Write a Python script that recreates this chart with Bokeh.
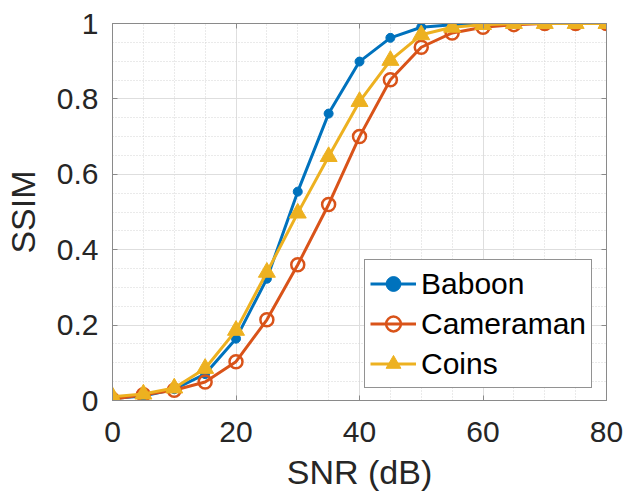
from bokeh.plotting import figure
from bokeh.models import (FixedTicker, LinearAxis, Range1d, Legend, LegendItem,
                          CustomLabelingPolicy)
from bokeh.embed import file_html
from bokeh.resources import INLINE

# SSIM versus SNR for three test images
snr = [0, 5, 10, 15, 20, 25, 30, 35, 40, 45, 50, 55, 60, 65, 70, 75, 80]
baboon = [0.005, 0.012, 0.030, 0.070, 0.164, 0.323, 0.554, 0.761, 0.899,
          0.962, 0.990, 0.997, 1.0, 1.0, 1.0, 1.0, 1.0]
cameraman = [0.003, 0.015, 0.027, 0.049, 0.103, 0.214, 0.360, 0.520, 0.700,
             0.851, 0.937, 0.975, 0.990, 0.997, 1.0, 1.0, 1.0]
coins = [0.010, 0.017, 0.033, 0.085, 0.186, 0.340, 0.497, 0.647, 0.793,
         0.902, 0.970, 0.990, 0.997, 1.0, 1.0, 1.0, 1.0]

x_ticks = [0, 20, 40, 60, 80]
x_minor = list(range(0, 81, 5))
y_ticks = [0, 0.2, 0.4, 0.6, 0.8, 1.0]
y_minor = [round(0.05 * i, 2) for i in range(21)]

FONT = "Liberation Sans"
TXT = "#262626"
AX = "#8a8a8a"

p = figure(width=644, height=495, output_backend="svg", toolbar_location=None,
           x_range=Range1d(0, 80), y_range=Range1d(0, 1),
           min_border_left=110, min_border_right=38,
           min_border_top=23, min_border_bottom=95)
p.background_fill_color = "white"
p.border_fill_color = "white"
p.outline_line_color = AX
p.outline_line_width = 1

xt = FixedTicker(ticks=x_ticks, minor_ticks=x_minor)
yt = FixedTicker(ticks=y_ticks, minor_ticks=y_minor)
p.xaxis.ticker = xt
p.yaxis.ticker = yt
p.yaxis.major_label_overrides = {0: "0", 1: "1", 0.2: "0.2", 0.4: "0.4", 0.6: "0.6", 0.8: "0.8"}

for ax in (p.xaxis[0], p.yaxis[0]):
    ax.axis_line_color = AX
    ax.major_tick_line_color = AX
    ax.major_tick_in = 5
    ax.major_tick_out = 0
    ax.minor_tick_line_color = None
    ax.major_label_text_font = FONT
    ax.major_label_text_font_size = "30px"
    ax.major_label_text_color = TXT
    ax.axis_label_text_font = FONT
    ax.axis_label_text_font_size = "34px"
    ax.axis_label_text_font_style = "normal"
    ax.axis_label_text_color = TXT

p.xaxis.axis_label = "SNR (dB)"
p.yaxis.axis_label = "SSIM"
p.xaxis.major_label_standoff = 17
p.xaxis.axis_label_standoff = 8
p.yaxis.major_label_standoff = 10
p.yaxis.axis_label_standoff = 12

# box ticks on top and right, without labels
for loc, tk in (("above", xt), ("right", yt)):
    a = LinearAxis(ticker=tk, major_label_text_font_size="0px",
                   major_label_policy=CustomLabelingPolicy(code="return []"),
                   axis_line_color=AX, major_tick_line_color=AX,
                   major_tick_in=5, major_tick_out=0,
                   minor_tick_line_color=None, major_label_standoff=0)
    p.add_layout(a, loc)

# grids
for g in (p.xgrid[0], p.ygrid[0]):
    g.grid_line_color = "#dedede"
    g.grid_line_width = 1
    g.minor_grid_line_color = "#d4d4d4"
    g.minor_grid_line_dash = "1 2"
    g.minor_grid_line_width = 1

BLUE = "#0072BD"
ORANGE = "#D95319"
YELLOW = "#EDB120"

l1 = p.line(snr, baboon, line_color=BLUE, line_width=3)
m1 = p.scatter(snr, baboon, marker="circle", size=9, fill_color=BLUE, line_color=BLUE)

l2 = p.line(snr, cameraman, line_color=ORANGE, line_width=3)
m2 = p.scatter(snr, cameraman, marker="circle", size=13, fill_color=None,
               line_color=ORANGE, line_width=2.5)

l3 = p.line(snr, coins, line_color=YELLOW, line_width=3)
m3 = p.scatter(snr, coins, marker="triangle", size=17, fill_color=YELLOW, line_color=YELLOW)

legend = Legend(items=[LegendItem(label="Baboon", renderers=[l1, m1]),
                       LegendItem(label="Cameraman", renderers=[l2, m2]),
                       LegendItem(label="Coins", renderers=[l3, m3])],
                location=(252, 12))
legend.label_text_font = FONT
legend.label_text_font_size = "30px"
legend.label_text_color = "black"
legend.border_line_color = TXT
legend.border_line_width = 1
legend.background_fill_alpha = 1
legend.glyph_width = 46
legend.glyph_height = 37
legend.label_height = 37
legend.label_standoff = 5
legend.spacing = 3
legend.padding = 5
legend.margin = 0
p.add_layout(legend, "center")

open("out.html", "w").write(file_html(p, INLINE))
